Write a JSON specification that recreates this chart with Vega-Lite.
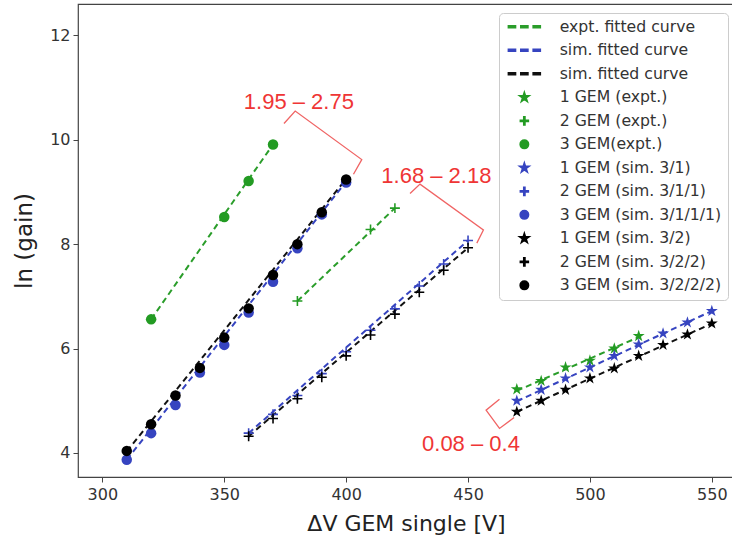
{
  "$schema": "https://vega.github.io/schema/vega-lite/v6.json",
  "width": 656,
  "height": 473,
  "autosize": {"type": "none"},
  "padding": {"left": 78, "top": 4, "right": 0, "bottom": 79},
  "background": "white",
  "datasets": {
    "fits": [
      {"V": 320, "lng": 6.56, "key": "expt. fitted curve", "g": "e3"},
      {"V": 370, "lng": 9.91, "key": "expt. fitted curve", "g": "e3"},
      {"V": 380, "lng": 6.91, "key": "expt. fitted curve", "g": "e2"},
      {"V": 420, "lng": 8.69, "key": "expt. fitted curve", "g": "e2"},
      {"V": 470, "lng": 5.19, "key": "expt. fitted curve", "g": "e1"},
      {"V": 520, "lng": 6.22, "key": "expt. fitted curve", "g": "e1"},
      {"V": 310, "lng": 3.87, "key": "sim. fitted curve", "g": "b3"},
      {"V": 400, "lng": 9.2, "key": "sim. fitted curve", "g": "b3"},
      {"V": 360, "lng": 4.38, "key": "sim. fitted curve", "g": "b2"},
      {"V": 450, "lng": 8.07, "key": "sim. fitted curve", "g": "b2"},
      {"V": 470, "lng": 4.99, "key": "sim. fitted curve", "g": "b1"},
      {"V": 550, "lng": 6.72, "key": "sim. fitted curve", "g": "b1"},
      {"V": 310, "lng": 4.03, "key": "sim. fitted curve ", "g": "k3"},
      {"V": 400, "lng": 9.25, "key": "sim. fitted curve ", "g": "k3"},
      {"V": 360, "lng": 4.32, "key": "sim. fitted curve ", "g": "k2"},
      {"V": 450, "lng": 7.93, "key": "sim. fitted curve ", "g": "k2"},
      {"V": 470, "lng": 4.79, "key": "sim. fitted curve ", "g": "k1"},
      {"V": 550, "lng": 6.48, "key": "sim. fitted curve ", "g": "k1"}
    ],
    "pts": [
      {"V": 320, "lng": 6.56, "key": "3 GEM(expt.)"},
      {"V": 350, "lng": 8.52, "key": "3 GEM(expt.)"},
      {"V": 360, "lng": 9.21, "key": "3 GEM(expt.)"},
      {"V": 370, "lng": 9.91, "key": "3 GEM(expt.)"},
      {"V": 380, "lng": 6.91, "key": "2 GEM (expt.)"},
      {"V": 410, "lng": 8.28, "key": "2 GEM (expt.)"},
      {"V": 420, "lng": 8.69, "key": "2 GEM (expt.)"},
      {"V": 470, "lng": 5.22, "key": "1 GEM (expt.)"},
      {"V": 480, "lng": 5.38, "key": "1 GEM (expt.)"},
      {"V": 490, "lng": 5.64, "key": "1 GEM (expt.)"},
      {"V": 500, "lng": 5.77, "key": "1 GEM (expt.)"},
      {"V": 510, "lng": 6.0, "key": "1 GEM (expt.)"},
      {"V": 520, "lng": 6.24, "key": "1 GEM (expt.)"},
      {"V": 310, "lng": 3.87, "key": "3 GEM (sim. 3/1/1/1)"},
      {"V": 320, "lng": 4.38, "key": "3 GEM (sim. 3/1/1/1)"},
      {"V": 330, "lng": 4.92, "key": "3 GEM (sim. 3/1/1/1)"},
      {"V": 340, "lng": 5.54, "key": "3 GEM (sim. 3/1/1/1)"},
      {"V": 350, "lng": 6.07, "key": "3 GEM (sim. 3/1/1/1)"},
      {"V": 360, "lng": 6.69, "key": "3 GEM (sim. 3/1/1/1)"},
      {"V": 370, "lng": 7.28, "key": "3 GEM (sim. 3/1/1/1)"},
      {"V": 380, "lng": 7.92, "key": "3 GEM (sim. 3/1/1/1)"},
      {"V": 390, "lng": 8.57, "key": "3 GEM (sim. 3/1/1/1)"},
      {"V": 400, "lng": 9.18, "key": "3 GEM (sim. 3/1/1/1)"},
      {"V": 360, "lng": 4.38, "key": "2 GEM (sim. 3/1/1)"},
      {"V": 370, "lng": 4.74, "key": "2 GEM (sim. 3/1/1)"},
      {"V": 380, "lng": 5.1, "key": "2 GEM (sim. 3/1/1)"},
      {"V": 390, "lng": 5.52, "key": "2 GEM (sim. 3/1/1)"},
      {"V": 400, "lng": 5.94, "key": "2 GEM (sim. 3/1/1)"},
      {"V": 410, "lng": 6.35, "key": "2 GEM (sim. 3/1/1)"},
      {"V": 420, "lng": 6.76, "key": "2 GEM (sim. 3/1/1)"},
      {"V": 430, "lng": 7.2, "key": "2 GEM (sim. 3/1/1)"},
      {"V": 440, "lng": 7.62, "key": "2 GEM (sim. 3/1/1)"},
      {"V": 450, "lng": 8.07, "key": "2 GEM (sim. 3/1/1)"},
      {"V": 470, "lng": 5.0, "key": "1 GEM (sim. 3/1)"},
      {"V": 480, "lng": 5.21, "key": "1 GEM (sim. 3/1)"},
      {"V": 490, "lng": 5.43, "key": "1 GEM (sim. 3/1)"},
      {"V": 500, "lng": 5.64, "key": "1 GEM (sim. 3/1)"},
      {"V": 510, "lng": 5.86, "key": "1 GEM (sim. 3/1)"},
      {"V": 520, "lng": 6.08, "key": "1 GEM (sim. 3/1)"},
      {"V": 530, "lng": 6.29, "key": "1 GEM (sim. 3/1)"},
      {"V": 540, "lng": 6.5, "key": "1 GEM (sim. 3/1)"},
      {"V": 550, "lng": 6.72, "key": "1 GEM (sim. 3/1)"},
      {"V": 310, "lng": 4.04, "key": "3 GEM (sim. 3/2/2/2)"},
      {"V": 320, "lng": 4.55, "key": "3 GEM (sim. 3/2/2/2)"},
      {"V": 330, "lng": 5.1, "key": "3 GEM (sim. 3/2/2/2)"},
      {"V": 340, "lng": 5.63, "key": "3 GEM (sim. 3/2/2/2)"},
      {"V": 350, "lng": 6.21, "key": "3 GEM (sim. 3/2/2/2)"},
      {"V": 360, "lng": 6.77, "key": "3 GEM (sim. 3/2/2/2)"},
      {"V": 370, "lng": 7.41, "key": "3 GEM (sim. 3/2/2/2)"},
      {"V": 380, "lng": 8.0, "key": "3 GEM (sim. 3/2/2/2)"},
      {"V": 390, "lng": 8.61, "key": "3 GEM (sim. 3/2/2/2)"},
      {"V": 400, "lng": 9.24, "key": "3 GEM (sim. 3/2/2/2)"},
      {"V": 360, "lng": 4.32, "key": "2 GEM (sim. 3/2/2)"},
      {"V": 370, "lng": 4.66, "key": "2 GEM (sim. 3/2/2)"},
      {"V": 380, "lng": 5.04, "key": "2 GEM (sim. 3/2/2)"},
      {"V": 390, "lng": 5.45, "key": "2 GEM (sim. 3/2/2)"},
      {"V": 400, "lng": 5.86, "key": "2 GEM (sim. 3/2/2)"},
      {"V": 410, "lng": 6.26, "key": "2 GEM (sim. 3/2/2)"},
      {"V": 420, "lng": 6.66, "key": "2 GEM (sim. 3/2/2)"},
      {"V": 430, "lng": 7.08, "key": "2 GEM (sim. 3/2/2)"},
      {"V": 440, "lng": 7.5, "key": "2 GEM (sim. 3/2/2)"},
      {"V": 450, "lng": 7.93, "key": "2 GEM (sim. 3/2/2)"},
      {"V": 470, "lng": 4.79, "key": "1 GEM (sim. 3/2)"},
      {"V": 480, "lng": 5.0, "key": "1 GEM (sim. 3/2)"},
      {"V": 490, "lng": 5.21, "key": "1 GEM (sim. 3/2)"},
      {"V": 500, "lng": 5.43, "key": "1 GEM (sim. 3/2)"},
      {"V": 510, "lng": 5.62, "key": "1 GEM (sim. 3/2)"},
      {"V": 520, "lng": 5.86, "key": "1 GEM (sim. 3/2)"},
      {"V": 530, "lng": 6.07, "key": "1 GEM (sim. 3/2)"},
      {"V": 540, "lng": 6.27, "key": "1 GEM (sim. 3/2)"},
      {"V": 550, "lng": 6.48, "key": "1 GEM (sim. 3/2)"}
    ],
    "brk": [
      {"b": "a", "i": 1, "V": 374.5, "lng": 10.31},
      {"b": "a", "i": 2, "V": 379.1, "lng": 10.55},
      {"b": "a", "i": 3, "V": 406.4, "lng": 9.62},
      {"b": "a", "i": 4, "V": 403.0, "lng": 9.34},
      {"b": "b", "i": 1, "V": 426.2, "lng": 8.97},
      {"b": "b", "i": 2, "V": 430.3, "lng": 9.15},
      {"b": "b", "i": 3, "V": 456.3, "lng": 8.27},
      {"b": "b", "i": 4, "V": 453.6, "lng": 8.02},
      {"b": "c", "i": 1, "V": 462.9, "lng": 5.03},
      {"b": "c", "i": 2, "V": 457.4, "lng": 4.82},
      {"b": "c", "i": 3, "V": 462.9, "lng": 4.47},
      {"b": "c", "i": 4, "V": 468.9, "lng": 4.68}
    ],
    "lbl": [
      {"V": 380.6, "lng": 10.72, "text": "1.95 – 2.75"},
      {"V": 437.0, "lng": 9.31, "text": "1.68 – 2.18"},
      {"V": 451.2, "lng": 4.17, "text": "0.08 – 0.4"}
    ]
  },
  "layer": [
    {
      "data": {"name": "fits"},
      "mark": {"type": "line", "strokeDash": [6, 4], "strokeWidth": 2},
      "encoding": {
        "x": {"field": "V", "type": "quantitative", "scale": {"domain": [290, 559.1], "nice": false, "zero": false},
              "axis": {"title": "ΔV GEM single [V]", "values": [300, 350, 400, 450, 500, 550], "titleFontSize": 22, "titlePadding": 11, "labelPadding": 4}},
        "y": {"field": "lng", "type": "quantitative", "scale": {"domain": [3.54, 12.6], "nice": false, "zero": false},
              "axis": {"title": "ln (gain)", "values": [4, 6, 8, 10, 12], "titleFontSize": 23, "titlePadding": 13, "labelPadding": 3}},
        "color": {"field": "key", "type": "nominal"},
        "detail": {"field": "g"}
      }
    },
    {
      "data": {"name": "pts"},
      "mark": {"type": "point", "filled": true, "opacity": 1, "size": 110},
      "encoding": {
        "x": {"field": "V", "type": "quantitative"},
        "y": {"field": "lng", "type": "quantitative"},
        "color": {"field": "key", "type": "nominal",
          "scale": {
            "domain": ["expt. fitted curve", "sim. fitted curve", "sim. fitted curve ", "1 GEM (expt.)", "2 GEM (expt.)", "3 GEM(expt.)", "1 GEM (sim. 3/1)", "2 GEM (sim. 3/1/1)", "3 GEM (sim. 3/1/1/1)", "1 GEM (sim. 3/2)", "2 GEM (sim. 3/2/2)", "3 GEM (sim. 3/2/2/2)"],
            "range": ["#2a9d2a", "#3644c0", "#111111", "#239b23", "#239b23", "#239b23", "#3644c0", "#3644c0", "#3644c0", "#000000", "#000000", "#000000"]
          },
          "legend": {"title": null, "encode": {"symbols": {"update": {"fill": {"scale": "color", "field": "value"}, "stroke": {"value": "transparent"}, "opacity": {"value": 1}}}}}
        },
        "shape": {"field": "key", "type": "nominal",
          "scale": {
            "domain": ["expt. fitted curve", "sim. fitted curve", "sim. fitted curve ", "1 GEM (expt.)", "2 GEM (expt.)", "3 GEM(expt.)", "1 GEM (sim. 3/1)", "2 GEM (sim. 3/1/1)", "3 GEM (sim. 3/1/1/1)", "1 GEM (sim. 3/2)", "2 GEM (sim. 3/2/2)", "3 GEM (sim. 3/2/2/2)"],
            "range": [
              "M-3.77,-0.24H-2.07V0.24H-3.77Z M-0.85,-0.24H0.85V0.24H-0.85Z M2.07,-0.24H3.77V0.24H2.07Z",
              "M-3.77,-0.24H-2.07V0.24H-3.77Z M-0.85,-0.24H0.85V0.24H-0.85Z M2.07,-0.24H3.77V0.24H2.07Z",
              "M-3.77,-0.24H-2.07V0.24H-3.77Z M-0.85,-0.24H0.85V0.24H-0.85Z M2.07,-0.24H3.77V0.24H2.07Z",
              "M0,-1.2L0.269,-0.371L1.141,-0.371L0.436,0.142L0.705,0.971L0,0.458L-0.705,0.971L-0.436,0.142L-1.141,-0.371L-0.269,-0.371Z",
              "M-0.95,-0.15H-0.15V-0.95H0.15V-0.15H0.95V0.15H0.15V0.95H-0.15V0.15H-0.95Z",
              "circle",
              "M0,-1.2L0.269,-0.371L1.141,-0.371L0.436,0.142L0.705,0.971L0,0.458L-0.705,0.971L-0.436,0.142L-1.141,-0.371L-0.269,-0.371Z",
              "M-0.95,-0.15H-0.15V-0.95H0.15V-0.15H0.95V0.15H0.15V0.95H-0.15V0.15H-0.95Z",
              "circle",
              "M0,-1.2L0.269,-0.371L1.141,-0.371L0.436,0.142L0.705,0.971L0,0.458L-0.705,0.971L-0.436,0.142L-1.141,-0.371L-0.269,-0.371Z",
              "M-0.95,-0.15H-0.15V-0.95H0.15V-0.15H0.95V0.15H0.15V0.95H-0.15V0.15H-0.95Z",
              "circle"
            ]
          },
          "legend": {"title": null}
        }
      }
    },
    {
      "data": {"name": "brk"},
      "mark": {"type": "line", "color": "#f06464", "strokeWidth": 1.3},
      "encoding": {
        "x": {"field": "V", "type": "quantitative"},
        "y": {"field": "lng", "type": "quantitative"},
        "detail": {"field": "b"},
        "order": {"field": "i", "type": "quantitative"}
      }
    },
    {
      "data": {"name": "lbl"},
      "mark": {"type": "text", "color": "#ef3535", "font": "Liberation Sans", "fontSize": 22, "align": "center", "baseline": "middle"},
      "encoding": {
        "x": {"field": "V", "type": "quantitative"},
        "y": {"field": "lng", "type": "quantitative"},
        "text": {"field": "text"}
      }
    }
  ],
  "config": {
    "view": {"stroke": "#444444", "strokeWidth": 1.2},
    "axis": {
      "domain": false, "grid": false, "tickColor": "#444444", "tickSize": 5, "tickWidth": 1,
      "labelColor": "#333333", "labelFont": "DejaVu Sans", "labelFontSize": 16,
      "titleFont": "DejaVu Sans", "titleFontWeight": "normal", "titleColor": "#222222"
    },
    "legend": {
      "orient": "none", "legendX": 421, "legendY": 9, "padding": 6,
      "fillColor": "rgba(255,255,255,0.85)", "strokeColor": "#cccccc", "cornerRadius": 4,
      "labelFont": "DejaVu Sans", "labelFontSize": 15.7, "labelColor": "#333333", "labelLimit": 300,
      "rowPadding": 6.5, "symbolSize": 72, "symbolOffset": 11.5, "labelOffset": 27.5
    }
  }
}
